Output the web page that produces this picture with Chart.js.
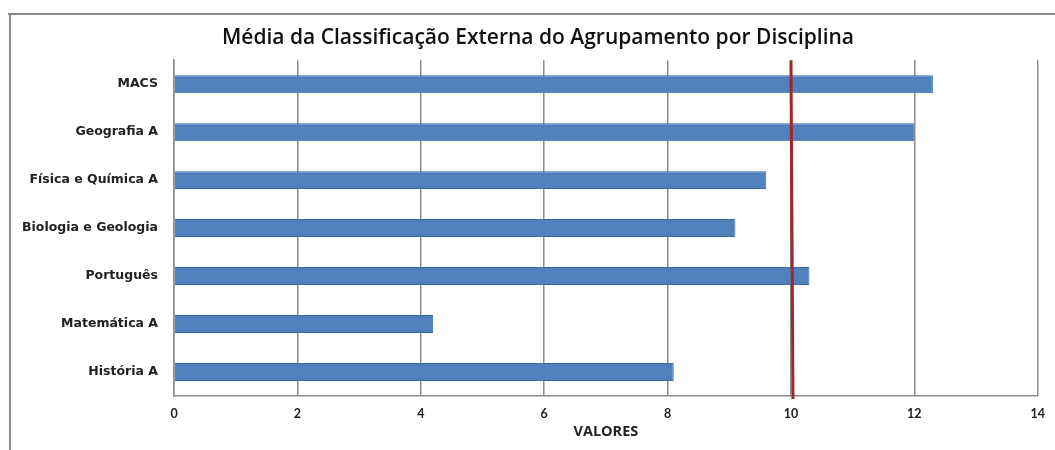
<!DOCTYPE html>
<html lang="pt">
<head>
  <meta charset="UTF-8" />
  <title>Média da Classificação Externa</title>
  <script src="https://cdn.jsdelivr.net/npm/chart.js"></script>
  <style>
    html, body { margin: 0; padding: 0; background: #fff; }
    #wrap { width: 1055px; height: 450px; position: relative; }
  </style>
</head>
<body>
  <div id="wrap"><canvas id="chart" width="1055" height="450"></canvas></div>

  <script>
    const disciplinas = ['MACS', 'Geografia A', 'Física e Química A', 'Biologia e Geologia', 'Português', 'Matemática A', 'História A'];
    const medias = [12.3, 12.0, 9.6, 9.1, 10.3, 4.2, 8.1];
    const xTicks = [0, 2, 4, 6, 8, 10, 12, 14];
    const referencia = 10;

    // frame around the chart + red reference line at 10
    const extras = {
      id: 'extras',
      afterLayout(chart) {
        // title sits a bit right of the canvas centre
        if (chart.titleBlock) chart.titleBlock.left += 38;
      },
      beforeDraw(chart) {
        const ctx = chart.ctx;
        ctx.save();
        ctx.strokeStyle = '#8a8a8a';
        ctx.lineWidth = 2;
        ctx.beginPath();
        ctx.moveTo(8, 14);
        ctx.lineTo(1055, 14);
        ctx.moveTo(10, 14);
        ctx.lineTo(10, 450);
        ctx.stroke();
        ctx.restore();
      },
      afterDatasetsDraw(chart) {
        const ctx = chart.ctx;
        const x = chart.scales.x.getPixelForValue(referencia);
        const area = chart.chartArea;
        ctx.save();
        ctx.strokeStyle = '#a3262a';
        ctx.lineWidth = 3;
        ctx.beginPath();
        ctx.moveTo(x, area.top);
        ctx.lineTo(x + 2, area.bottom + 3);
        ctx.stroke();
        ctx.restore();
      }
    };

    new Chart(document.getElementById('chart'), {
      type: 'bar',
      data: {
        labels: disciplinas,
        datasets: [{
          data: medias,
          backgroundColor: '#4f81bd',
          borderColor: '#3c6ca8',
          borderWidth: 1,
          barPercentage: 0.375,
          categoryPercentage: 1
        }]
      },
      options: {
        indexAxis: 'y',
        responsive: false,
        animation: false,
        layout: { padding: { left: 0, right: 17, top: 25, bottom: 0 } },
        plugins: {
          legend: { display: false },
          tooltip: { enabled: false },
          title: {
            display: true,
            text: 'Média da Classificação Externa do Agrupamento por Disciplina',
            color: '#111',
            font: { family: 'Open Sans', size: 21, weight: '600' },
            padding: { top: 0, bottom: 10 }
          }
        },
        scales: {
          x: {
            min: 0,
            max: 14,
            afterBuildTicks(scale) { scale.ticks = xTicks.map(v => ({ value: v })); },
            afterFit(scale) { scale.height = 54; },
            grid: { color: '#8c8c8c', lineWidth: 1.5, drawTicks: false },
            border: { color: '#8c8c8c', width: 1.5 },
            ticks: { color: '#222', padding: 10, font: { family: 'Lato', size: 12.5, weight: 'bold' } },
            title: {
              display: true,
              text: 'VALORES',
              color: '#222',
              font: { family: 'Open Sans', size: 14.5, weight: 'bold' },
              padding: { top: 4, bottom: 9 }
            }
          },
          y: {
            afterFit(scale) { scale.width = 174; },
            grid: { display: false, drawTicks: false },
            border: { color: '#8c8c8c', width: 1.5 },
            ticks: { color: '#222', padding: 16, font: { family: 'DejaVu Sans', size: 12.5, weight: 'bold' } }
          }
        }
      },
      plugins: [extras]
    });
  </script>
</body>
</html>
